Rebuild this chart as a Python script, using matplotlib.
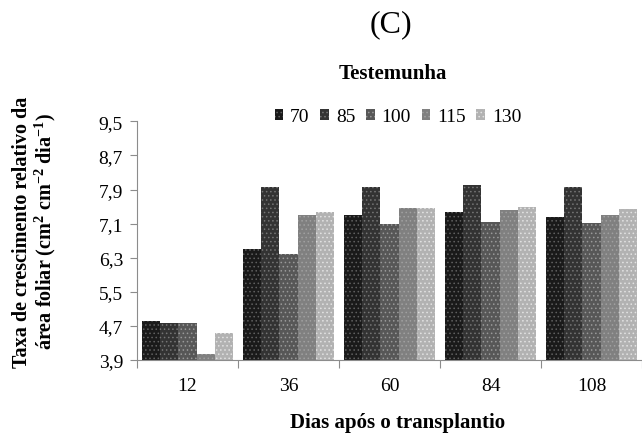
import matplotlib
matplotlib.use("Agg")
import matplotlib.pyplot as plt
import numpy as np
from matplotlib.patches import Patch

plt.rcParams["font.family"] = ["Liberation Serif", "DejaVu Serif"]
plt.rcParams["mathtext.fontset"] = "custom"
plt.rcParams["mathtext.rm"] = "Liberation Serif"
plt.rcParams["mathtext.bf"] = "Liberation Serif:bold"
plt.rcParams["mathtext.default"] = "bf"
plt.rcParams["hatch.linewidth"] = 0.6

# Data
days = ["12", "36", "60", "84", "108"]
series = ["70", "85", "100", "115", "130"]
v70 = [4.82, 6.51, 7.30, 7.37, 7.26]
v85 = [4.77, 7.96, 7.96, 8.01, 7.96]
v100 = [4.77, 6.38, 7.10, 7.14, 7.12]
v115 = [4.04, 7.30, 7.46, 7.42, 7.30]
v130 = [4.53, 7.38, 7.46, 7.48, 7.44]
yticks = [3.9, 4.7, 5.5, 6.3, 7.1, 7.9, 8.7, 9.5]

values = [v70, v85, v100, v115, v130]
faces = ["#1a1a1a", "#333333", "#575757", "#808080", "#b2b2b2"]
hatch_cols = ["#606060", "#757575", "#999999", "#a0a0a0", "#e2e2e2"]

fig = plt.figure(figsize=(6.42, 4.35), dpi=100)
ax = fig.add_axes([137 / 642, 1 - 361 / 435, 1 - 137 / 642, (361 - 122.3) / 435])

x = np.arange(len(days))
w = 0.18
base = yticks[0]
handles = []
for i, (name, vals) in enumerate(zip(series, values)):
    heights = np.array(vals) - base
    ax.bar(x + (i - 2) * w, heights, w, bottom=base, color=faces[i],
           edgecolor=hatch_cols[i], hatch="....", linewidth=0)
    handles.append(Patch(facecolor=faces[i], edgecolor=hatch_cols[i],
                         hatch="....", linewidth=0, label=name))

ax.set_ylim(yticks[0], yticks[-1])
ax.set_xlim(-0.5, 4.417)
ax.set_yticks(yticks)
ax.set_yticklabels([f"{v:.1f}".replace(".", ",") for v in yticks], fontsize=14)

# boundary ticks between groups, labels at group centres
ax.set_xticks(np.arange(len(days) + 1) - 0.5)
ax.set_xticklabels([])
ax.set_xticks(x, minor=True)
ax.set_xticklabels(days, minor=True, fontsize=14)
ax.tick_params(axis="x", which="minor", length=0, pad=12)
ax.tick_params(axis="x", which="major", length=6, color="#8c8c8c")
ax.tick_params(axis="y", length=5, color="#8c8c8c", pad=5)

for side in ("top", "right"):
    ax.spines[side].set_visible(False)
for side in ("left", "bottom"):
    ax.spines[side].set_color("#8c8c8c")

fig.text(391 / 642, 1 - 25 / 435, "(C)", fontsize=23, ha="center", va="center")
fig.text(393 / 642, 1 - 74 / 435, "Testemunha", fontsize=15, fontweight="bold",
         ha="center", va="center")
fig.legend(handles=handles, loc="center", bbox_to_anchor=(398 / 642, 1 - 118 / 435),
           ncol=5, frameon=False, fontsize=14, handlelength=0.45, handleheight=0.45,
           handletextpad=0.35, columnspacing=0.55)
fig.text(398 / 642, 1 - 423 / 435, "Dias após o transplantio", fontsize=15,
         fontweight="bold", ha="center", va="center")
fig.text(35 / 642, 1 - 232 / 435,
         "Taxa de crescimento relativo da\n"
         r"área foliar (cm$^{2}$ cm$^{-2}$ dia$^{-1}$)",
         fontsize=14.5, fontweight="bold", rotation=90, ha="center", va="center",
         multialignment="center", linespacing=1.05)

fig.savefig("out.png", dpi=100)
